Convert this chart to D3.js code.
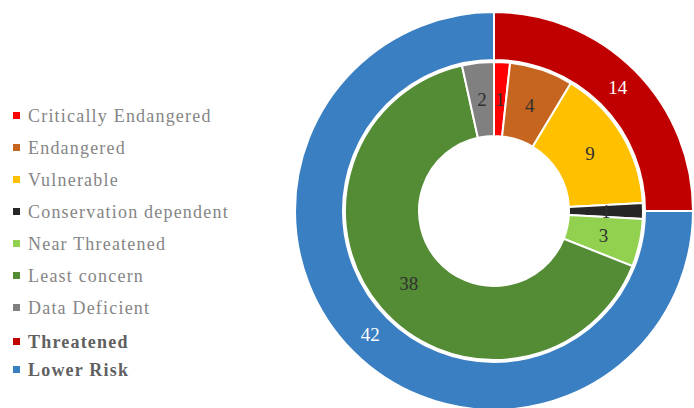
<!DOCTYPE html>
<html>
<head>
<meta charset="utf-8">
<script src="https://cdn.jsdelivr.net/npm/d3@7"></script>
<style>
  html, body { margin: 0; padding: 0; background: #fff; }
  svg { display: block; }
  text { font-family: "Liberation Serif", "Times New Roman", "DejaVu Serif", serif; }
</style>
</head>
<body>
<svg id="chart" width="694" height="408"></svg>
<script>
// Species by conservation status (inner ring) and grouped risk (outer ring)
const statusNames = ["Critically Endangered", "Endangered", "Vulnerable",
  "Conservation dependent", "Near Threatened", "Least concern", "Data Deficient"];
const statusCounts = [1, 4, 9, 1, 3, 38, 2];
const statusColors = ["#ff0000", "#c5651f", "#ffc000", "#262626", "#92d050", "#548c35", "#808080"];

const groupNames = ["Threatened", "Lower Risk"];
const groupCounts = [14, 42];
const groupColors = ["#c00000", "#3a7fc2"];

const svg = d3.select("#chart");
const cx = 494, cy = 211;
const g = svg.append("g").attr("transform", `translate(${cx},${cy})`);

const pie = d3.pie().sort(null).value(d => d.value);

const innerArc = d3.arc().innerRadius(75).outerRadius(149);
const outerArc = d3.arc().innerRadius(151).outerRadius(199);

const statusData = pie(statusNames.map((n, i) => ({ name: n, value: statusCounts[i], color: statusColors[i] })));
const groupData = pie(groupNames.map((n, i) => ({ name: n, value: groupCounts[i], color: groupColors[i] })));

// outer ring
g.selectAll("path.outer").data(groupData).join("path")
  .attr("class", "outer")
  .attr("d", outerArc)
  .attr("fill", d => d.data.color)
  .attr("stroke", "#fff").attr("stroke-width", 2);

// inner ring
g.selectAll("path.inner").data(statusData).join("path")
  .attr("class", "inner")
  .attr("d", innerArc)
  .attr("fill", d => d.data.color)
  .attr("stroke", "#fff").attr("stroke-width", 2);

// value labels
g.selectAll("text.inner").data(statusData).join("text")
  .attr("class", "inner")
  .attr("transform", d => `translate(${innerArc.centroid(d)})`)
  .attr("text-anchor", "middle")
  .attr("dy", "0.35em")
  .attr("font-size", 19)
  .attr("fill", "#303030")
  .text(d => d.data.value);

g.selectAll("text.outer").data(groupData).join("text")
  .attr("class", "outer")
  .attr("transform", d => `translate(${outerArc.centroid(d)})`)
  .attr("text-anchor", "middle")
  .attr("dy", "0.35em")
  .attr("font-size", 19)
  .attr("fill", "#fff")
  .text(d => d.data.value);

// legend
const legendItems = statusNames.map((n, i) => ({ name: n, color: statusColors[i], bold: false }))
  .concat(groupNames.map((n, i) => ({ name: n, color: groupColors[i], bold: true })));
const rowY = i => i < 7 ? 116 + i * 32 : (i === 7 ? 342 : 370);

const legend = svg.append("g");
const rows = legend.selectAll("g").data(legendItems).join("g")
  .attr("transform", (d, i) => `translate(13,${rowY(i)})`);
rows.append("rect")
  .attr("x", 0).attr("y", -4).attr("width", 7).attr("height", 7)
  .attr("fill", d => d.color);
rows.append("text")
  .attr("x", 15).attr("dy", "0.35em")
  .attr("font-size", 18)
  .attr("letter-spacing", 1.2)
  .attr("fill", d => d.bold ? "#606060" : "#858585")
  .attr("font-weight", d => d.bold ? "bold" : "normal")
  .text(d => d.name);
</script>
</body>
</html>
